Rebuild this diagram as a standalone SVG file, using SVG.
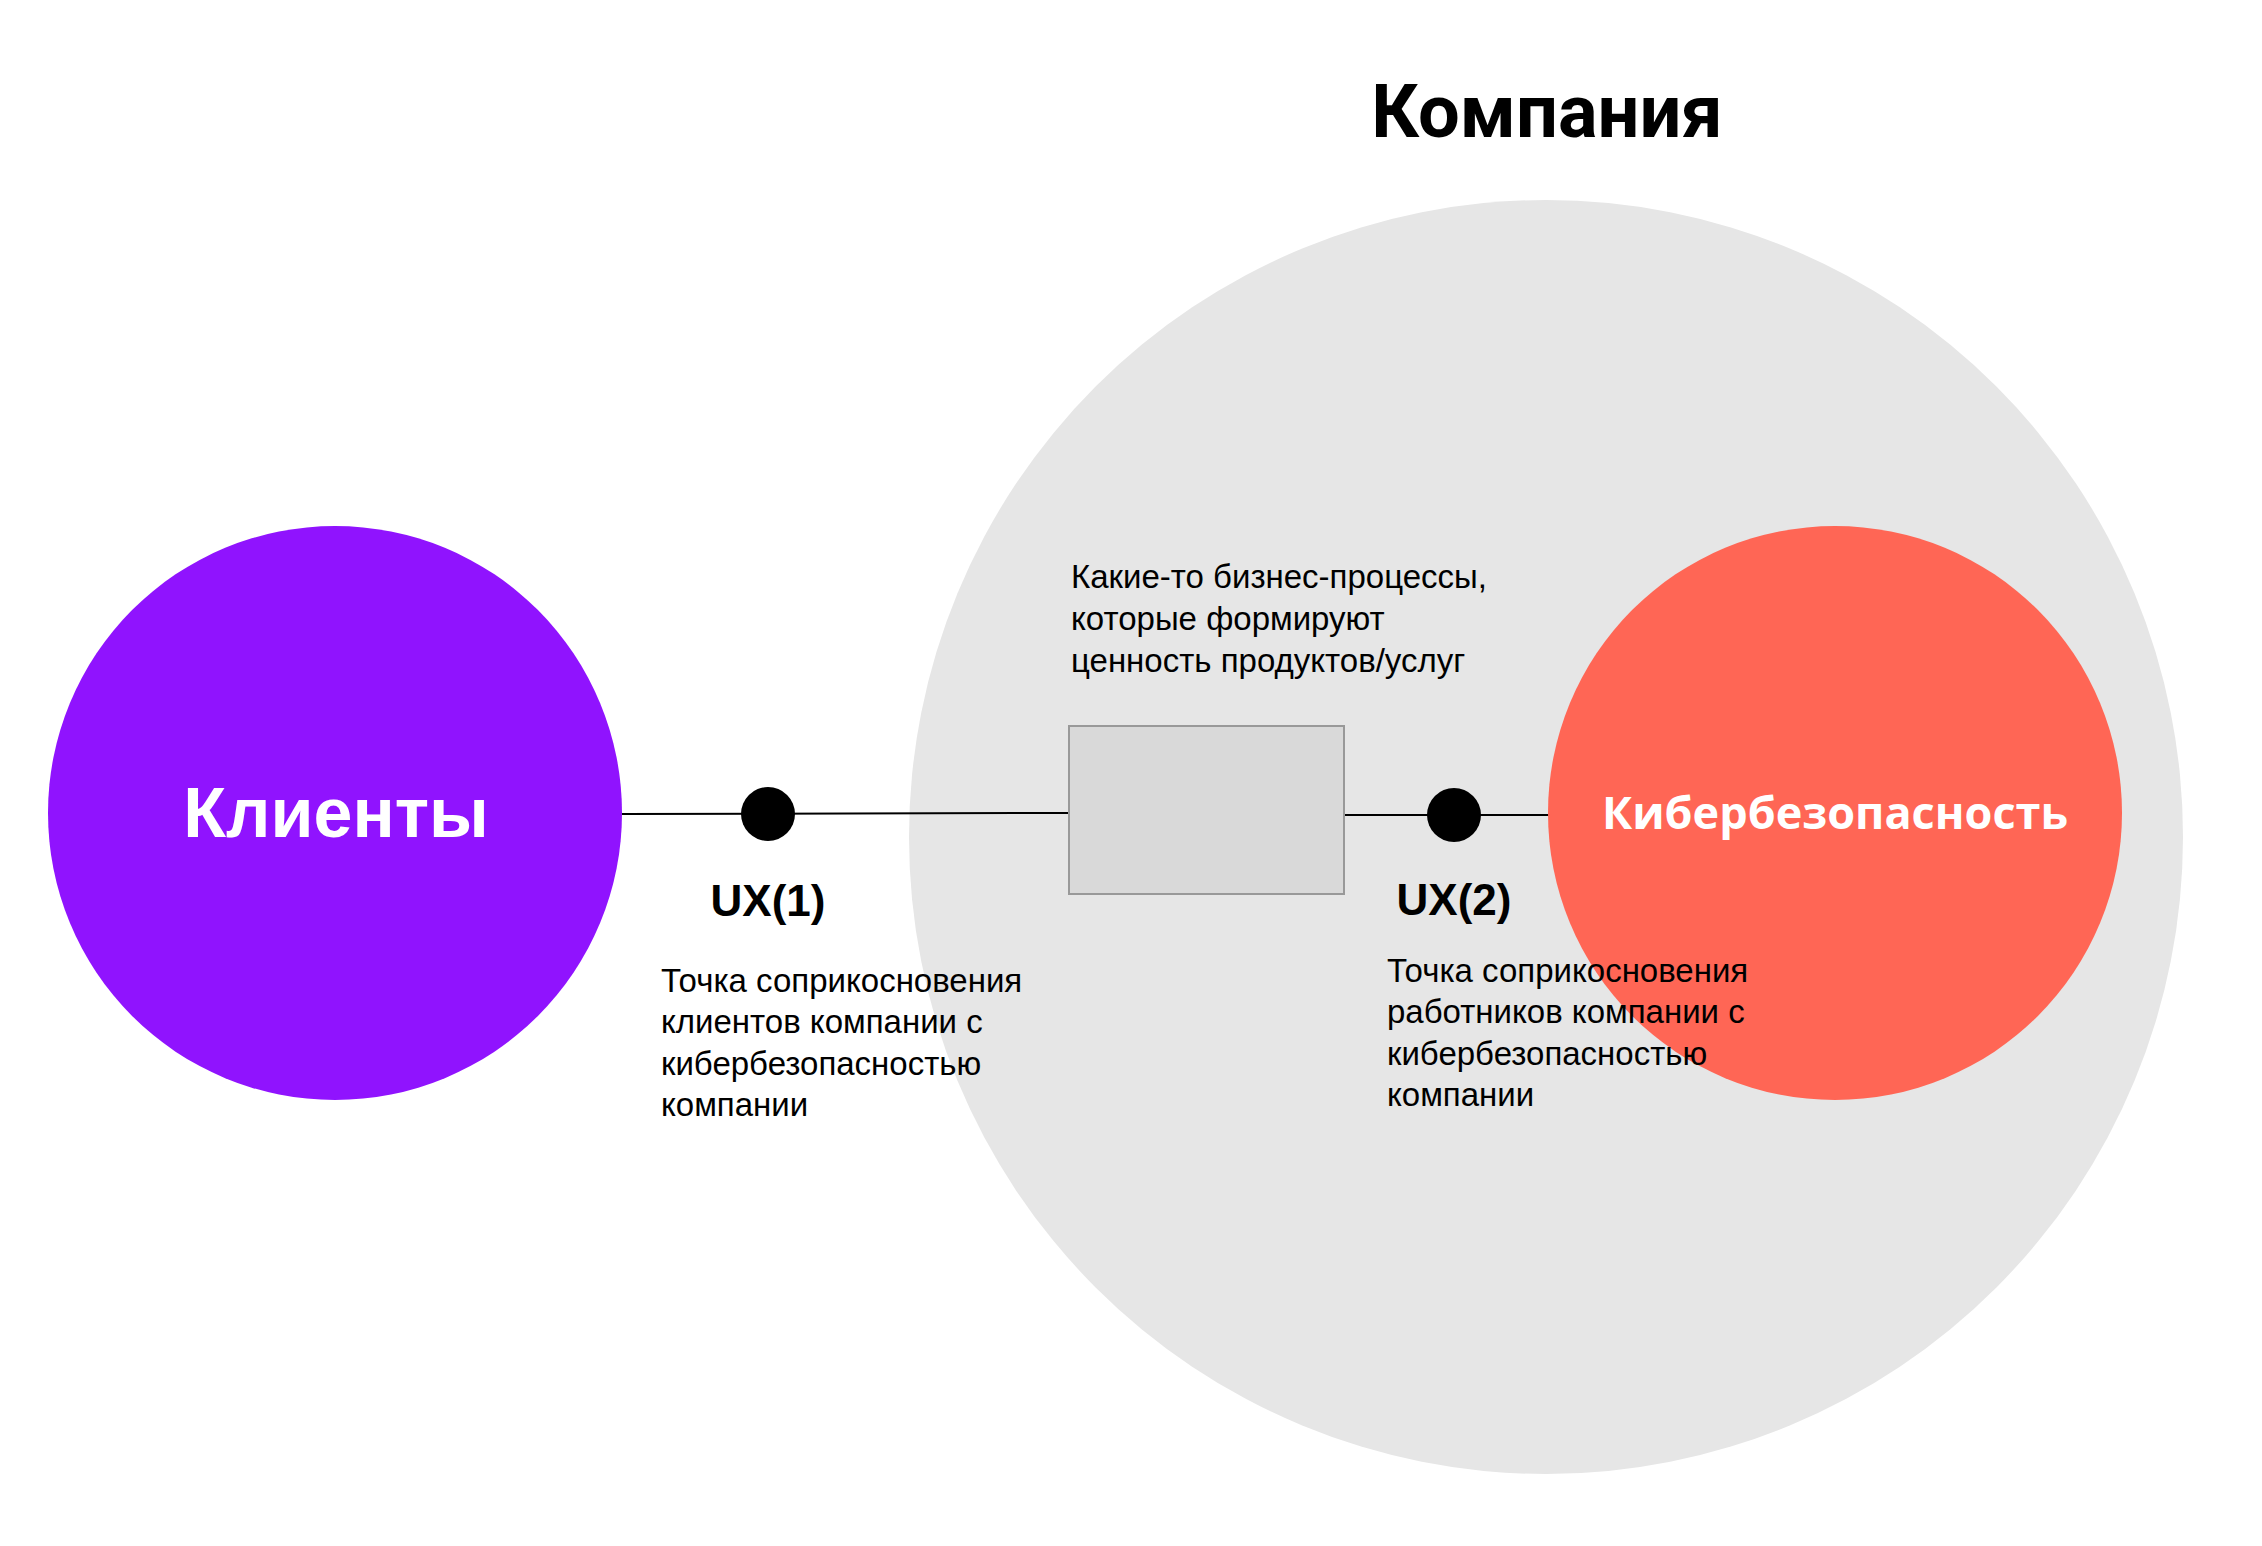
<svg xmlns="http://www.w3.org/2000/svg" width="2262" height="1546" viewBox="0 0 2262 1546">
<style>
.body{font-family:"Liberation Sans",Arial,sans-serif;font-size:33px;fill:#000}
.ux{font-family:"Liberation Sans",Arial,sans-serif;font-size:44px;font-weight:700;fill:#000;text-anchor:middle}
.conn{stroke:#000;stroke-width:2;fill:none}
.dot{fill:#000}
</style>
<rect width="2262" height="1546" fill="#fff"/>
<g id="company">
<circle cx="1546" cy="837" r="637" fill="#e6e6e6"/>
<text x="1547" y="137" text-anchor="middle" font-family="Roboto,'Noto Sans',sans-serif" font-weight="700" font-size="74" fill="#000">Компания</text>
</g>
<g id="clients">
<circle cx="335" cy="813" r="287" fill="#9013fe"/>
<text x="336" y="837" text-anchor="middle" font-family="'Liberation Sans',Arial,sans-serif" font-weight="700" font-size="70" fill="#fff">Клиенты</text>
</g>
<g id="connectors">
<line class="conn" x1="622" y1="814" x2="1069" y2="813"/>
<line class="conn" x1="1344" y1="815" x2="1560" y2="815"/>
</g>
<g id="process">
<rect x="1069" y="726" width="275" height="168" fill="#d9d9d9" stroke="#999" stroke-width="2"/>
<text class="body"><tspan x="1071" y="588">Какие-то бизнес-процессы,</tspan><tspan x="1071" y="630">которые формируют</tspan><tspan x="1071" y="672">ценность продуктов/услуг</tspan></text>
</g>
<g id="cyber">
<circle cx="1835" cy="813" r="287" fill="#ff6655"/>
<text x="1835" y="829" text-anchor="middle" font-family="'Open Sans','Noto Sans',sans-serif" font-weight="700" font-size="45" fill="#fff">Кибербезопасность</text>
</g>
<g id="ux1">
<circle class="dot" cx="768" cy="814" r="27"/>
<text class="ux" x="768" y="916">UX(1)</text>
<text class="body"><tspan x="661" y="992">Точка соприкосновения</tspan><tspan x="661" y="1033">клиентов компании с</tspan><tspan x="661" y="1075">кибербезопасностью</tspan><tspan x="661" y="1116">компании</tspan></text>
</g>
<g id="ux2">
<circle class="dot" cx="1454" cy="815" r="27"/>
<text class="ux" x="1454" y="915">UX(2)</text>
<text class="body"><tspan x="1387" y="982">Точка соприкосновения</tspan><tspan x="1387" y="1023">работников компании с</tspan><tspan x="1387" y="1065">кибербезопасностью</tspan><tspan x="1387" y="1106">компании</tspan></text>
</g>
</svg>
